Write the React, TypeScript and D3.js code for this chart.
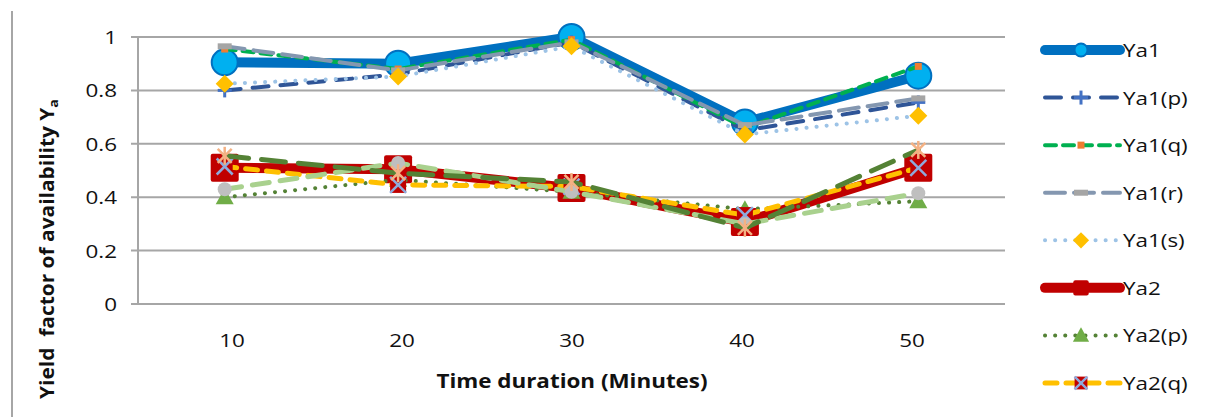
import React from 'react';
import * as d3 from 'd3';

const minutes = ['10', '20', '30', '40', '50'];
const yTicks = [0, 0.2, 0.4, 0.6, 0.8, 1];

const ya1 = [0.905, 0.9, 1.0, 0.68, 0.855];
const ya1p = [0.8, 0.86, 0.98, 0.65, 0.755];
const ya1q = [0.955, 0.88, 0.99, 0.66, 0.89];
const ya1r = [0.965, 0.875, 0.98, 0.67, 0.77];
const ya1s = [0.825, 0.852, 0.965, 0.635, 0.705];
const ya2 = [0.51, 0.505, 0.434, 0.307, 0.51];
const ya2p = [0.4, 0.465, 0.42, 0.355, 0.385];
const ya2q = [0.515, 0.446, 0.44, 0.333, 0.51];
const ya2r = [0.43, 0.528, 0.42, 0.3, 0.415];
const ya2s = [0.555, 0.49, 0.457, 0.285, 0.577];

type Marker = 'circle' | 'plus' | 'smallsq' | 'dash' | 'diamond' | 'square' | 'triangle' | 'xbox' | 'dot' | 'asterisk';

interface Series {
  name: string;
  values: number[];
  color: string;
  width: number;
  dash?: string;
  marker: Marker;
  legend: boolean;
}

const series: Series[] = [
  { name: 'Ya1', values: ya1, color: '#0070C0', width: 10, marker: 'circle', legend: true },
  { name: 'Ya1(p)', values: ya1p, color: '#2F5597', width: 4, dash: '16 12', marker: 'plus', legend: true },
  { name: 'Ya1(q)', values: ya1q, color: '#00B050', width: 4, dash: '11 7', marker: 'smallsq', legend: true },
  { name: 'Ya1(r)', values: ya1r, color: '#8497B0', width: 4, dash: '20 9', marker: 'dash', legend: true },
  { name: 'Ya1(s)', values: ya1s, color: '#9DC3E6', width: 4, dash: '0.1 10', marker: 'diamond', legend: true },
  { name: 'Ya2', values: ya2, color: '#C00000', width: 10, marker: 'square', legend: true },
  { name: 'Ya2(p)', values: ya2p, color: '#548235', width: 4, dash: '0.1 10', marker: 'triangle', legend: true },
  { name: 'Ya2(q)', values: ya2q, color: '#FFC000', width: 5, dash: '12 9', marker: 'xbox', legend: true },
  { name: 'Ya2(r)', values: ya2r, color: '#A9D18E', width: 5, dash: '17 11', marker: 'dot', legend: false },
  { name: 'Ya2(s)', values: ya2s, color: '#548235', width: 5, dash: '24 13', marker: 'asterisk', legend: false },
];

const FONT = '"Open Sans", "Noto Sans", sans-serif';
const SX = 1.18; // text in the picture is a bit wider than the font

// k scales the marker down for the legend
function drawMarker(m: Marker, x: number, y: number, key: string, k = 1) {
  switch (m) {
    case 'circle':
      return <circle key={key} cx={x} cy={y} r={13 * k} fill="#00B0F0" stroke="#0070C0" strokeWidth={2} />;
    case 'plus':
      return (
        <g key={key} stroke="#4472C4" strokeWidth={3}>
          <line x1={x - 7 * k} x2={x + 7 * k} y1={y} y2={y} />
          <line x1={x} x2={x} y1={y - 7 * k} y2={y + 7 * k} />
        </g>
      );
    case 'smallsq':
      return <rect key={key} x={x - 3.5} y={y - 3.5} width={7} height={7} fill="#ED7D31" />;
    case 'dash':
      return <rect key={key} x={x - 7} y={y - 3} width={14} height={6} fill="#A5A5A5" />;
    case 'diamond':
      return <path key={key} d={`M${x},${y - 9 * k}L${x + 9 * k},${y}L${x},${y + 9 * k}L${x - 9 * k},${y}Z`} fill="#FFC000" />;
    case 'square': {
      const h = 14 * k;
      return <rect key={key} x={x - h} y={y - h} width={2 * h} height={2 * h} rx={2} fill="#C00000" />;
    }
    case 'triangle':
      return <path key={key} d={`M${x},${y - 9 * k}L${x + 9 * k},${y + 7 * k}L${x - 9 * k},${y + 7 * k}Z`} fill="#70AD47" />;
    case 'xbox': {
      const h = 8 * k;
      return (
        <g key={key}>
          <rect x={x - h} y={y - h} width={2 * h} height={2 * h} fill="#C00000" />
          <g stroke="#8FAADC" strokeWidth={2.5}>
            <line x1={x - h} x2={x + h} y1={y - h} y2={y + h} />
            <line x1={x - h} x2={x + h} y1={y + h} y2={y - h} />
          </g>
        </g>
      );
    }
    case 'dot':
      return <circle key={key} cx={x} cy={y} r={7 * k} fill="#BFBFBF" />;
    case 'asterisk':
      return (
        <g key={key} stroke="#F4B183" strokeWidth={2.5}>
          <line x1={x - 7} x2={x + 7} y1={y - 7} y2={y + 7} />
          <line x1={x - 7} x2={x + 7} y1={y + 7} y2={y - 7} />
          <line x1={x} x2={x} y1={y - 9} y2={y + 9} />
        </g>
      );
  }
}

const legendK: Record<string, number> = { circle: 0.5, square: 0.55, xbox: 0.8, diamond: 0.9, triangle: 0.9, plus: 1 };

function Label(props: { x: number; y: number; anchor?: string; size?: number; bold?: boolean; children: React.ReactNode }) {
  const { x, y, anchor = 'start', size = 19, bold = false, children } = props;
  return (
    <text
      transform={`translate(${x},${y}) scale(${SX},1)`}
      textAnchor={anchor}
      fontSize={size}
      fontWeight={bold ? 'bold' : 'normal'}
      fill="#111"
      style={{ whiteSpace: 'pre' }}
    >
      {children}
    </text>
  );
}

export default function App() {
  const width = 1208;
  const height = 417;
  const left = 138;
  const right = 1005;
  const top = 37;
  const bottom = 304;

  const x = d3.scaleBand<string>().domain(minutes).range([left, right]);
  const xLabel = d3.scaleBand<string>().domain(minutes).range([147, 997]);
  const y = d3.scaleLinear().domain([0, 1]).range([bottom, top]);
  const cx = (c: string) => (x(c) ?? 0) + x.bandwidth() / 2;

  const line = d3
    .line<number>()
    .x((_, i) => cx(minutes[i]))
    .y(d => y(d));

  const legendX1 = 1045;
  const legendX2 = 1120;
  const legendRows = d3.scaleLinear().domain([0, 7]).range([50, 383]);

  return (
    <svg
      width={width}
      height={height}
      style={{ position: 'absolute', left: 0, top: 0, background: '#fff' }}
      fontFamily={FONT}
    >
      <line x1={12} x2={12} y1={11} y2={417} stroke="#A6A6A6" strokeWidth={2} />

      {/* grid + y ticks */}
      {yTicks.map(t => (
        <g key={t}>
          <line x1={left - 7} x2={right} y1={y(t)} y2={y(t)} stroke="#A6A6A6" strokeWidth={2} />
          <Label x={117} y={y(t) + 7} anchor="end">
            {t === 0 || t === 1 ? String(t) : t.toFixed(1)}
          </Label>
        </g>
      ))}
      <line x1={left} x2={left} y1={top} y2={bottom} stroke="#A6A6A6" strokeWidth={2} />

      {minutes.map(m => (
        <Label key={m} x={(xLabel(m) ?? 0) + xLabel.bandwidth() / 2} y={347} anchor="middle">
          {m}
        </Label>
      ))}

      <Label x={572} y={388} anchor="middle" bold>
        Time duration (Minutes)
      </Label>
      <text
        transform="translate(54,249) rotate(-90) scale(1.1,1)"
        textAnchor="middle"
        fontSize={19}
        fontWeight="bold"
        fill="#111"
        style={{ whiteSpace: 'pre' }}
      >
        {'Yield  factor of availability Y'}
        <tspan fontSize={13} dy={4}>a</tspan>
      </text>

      {/* series */}
      {series.map(s => (
        <g key={s.name}>
          <path
            d={line(s.values) ?? ''}
            fill="none"
            stroke={s.color}
            strokeWidth={s.width}
            strokeDasharray={s.dash}
            strokeLinecap="round"
            strokeLinejoin="round"
          />
          {s.values.map((v, i) => drawMarker(s.marker, cx(minutes[i]), y(v), `${s.name}-${i}`))}
        </g>
      ))}

      {/* legend */}
      {series
        .filter(s => s.legend)
        .map((s, i) => {
          const ly = legendRows(i);
          return (
            <g key={s.name}>
              <line
                x1={legendX1}
                x2={legendX2}
                y1={ly}
                y2={ly}
                stroke={s.color}
                strokeWidth={s.width}
                strokeDasharray={s.dash}
                strokeLinecap="round"
              />
              {drawMarker(s.marker, 1081, ly, `lg-${s.name}`, legendK[s.marker] ?? 1)}
              <Label x={1123} y={ly + 7}>
                {s.name}
              </Label>
            </g>
          );
        })}
    </svg>
  );
}
